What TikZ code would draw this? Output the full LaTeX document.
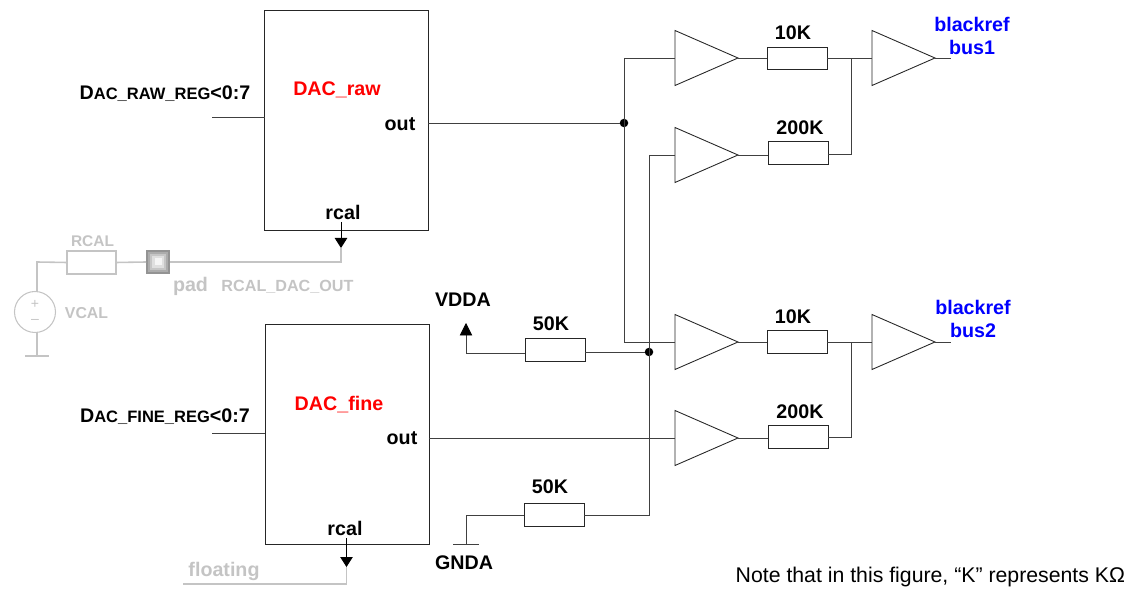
\documentclass[tikz,border=0pt]{standalone}
\usepackage{xcolor}
\usepackage{fontspec}
\setmainfont{Liberation Sans}
\usetikzlibrary{positioning,shapes.geometric,arrows.meta}

\definecolor{faded}{HTML}{C4C4C4}

\newcommand{\dacreg}[1]{\fontsize{11.2}{13}\selectfont D\fontsize{9.4}{13}\selectfont #1\fontsize{11.2}{13}\selectfont <0:7}

\begin{document}
\begin{tikzpicture}
[x=0.02cm, y=-0.02cm, font=\fontsize{11.2}{13}\selectfont\bfseries,
    every node/.style={inner sep=0pt, outer sep=0pt},
    wire/.style={draw=black!75, line width=0.5pt},
    fadedwire/.style={draw=faded, line width=0.9pt},
    dacbox/.style={draw=black!85, line width=0.5pt, minimum width=3.28cm, minimum height=4.4cm},
    resistor/.style={draw=black!85, line width=0.5pt, minimum width=1.2cm, minimum height=0.45cm},
    amp/.style={draw=black!85, line width=0.5pt, isosceles triangle, isosceles triangle stretches,
        shape border rotate=0, minimum width=1.1cm, minimum height=1.26cm, anchor=lower side},
    junction/.style={circle, fill=black, minimum size=0.17cm},
    busname/.style={text=blue, align=center},
    dacname/.style={text=red},
    fadedtext/.style={text=faded},
    tip/.style={-{Triangle[length=0.2cm,width=0.25cm,black]}},
    supplytip/.style={-{Triangle[length=0.25cm,width=0.25cm,black]}},
    ]

    \useasboundingbox (0,0) rectangle (1134,591);

    % blocks
    \node [dacbox] (raw) at (346.5,120) {};
    \node [dacbox] (fine) at (347,434) {};
    \node [dacname] (rawname) at (337,89.5) {DAC\_raw};
    \node [dacname] (finename) at (339,404.5) {DAC\_fine};
    \node (rawout) at (400,124) {out};
    \node (fineout) at (402,438) {out};
    \node (rawrcal) at (343,212) {rcal};
    \node (finercal) at (345,528) {rcal};
    \node (rawreg) at (165,94) {\dacreg{AC\_RAW\_REG}};
    \node (finereg) at (165,417) {\dacreg{AC\_FINE\_REG}};
    \coordinate (rawregend) at (212,117);
    \coordinate (fineregend) at (212,433);

    % buffers
    \node [amp] (amp1) at (675,58) {};
    \node [amp] (amp2) at (675,155) {};
    \node [amp] (amp3) at (675,342) {};
    \node [amp] (amp4) at (675,438) {};
    \node [amp] (bus1amp) at (872,58) {};
    \node [amp] (bus2amp) at (872,342) {};

    % resistors
    \node [resistor] (r1) at (797,58.5) {};
    \node [resistor] (r2) at (798,153) {};
    \node [resistor] (r3) at (797,342) {};
    \node [resistor] (r4) at (798,437) {};
    \node [resistor] (rvdd) at (555,350) {};
    \node [resistor] (rgnd) at (554,515) {};
    \node (r1val) at (793,33) {10K};
    \node (r2val) at (800,128) {200K};
    \node (r3val) at (793,317) {10K};
    \node (r4val) at (800,412) {200K};
    \node (rvddval) at (551,324) {50K};
    \node (rgndval) at (550,487) {50K};

    % outputs
    \coordinate (bus1end) at (951,58);
    \coordinate (bus2end) at (951,342);
    \node [busname] (bus1) at (972,36) {blackref\\bus1};
    \node [busname] (bus2) at (973,319) {blackref\\bus2};

    % junctions
    \node [junction] (rawdot) at (624,123) {};
    \node [junction] (biasdot) at (649,352) {};
    \coordinate (rawtop) at (624,58);
    \coordinate (rawbot) at (624,342);
    \coordinate (biastop) at (649,155);
    \coordinate (biasbot) at (649,515);
    \coordinate (join1) at (851,58.5);
    \coordinate (join1b) at (851,154);
    \coordinate (join2) at (851,342);
    \coordinate (join2b) at (851,437);

    % supplies
    \node (vdda) at (463,300) {VDDA};
    \node (gnda) at (464,563) {GNDA};
    \coordinate (vddaend) at (466,323);
    \coordinate (vddacorner) at (466,353);
    \coordinate (gndacorner) at (466,515);
    \coordinate (gndaend) at (466,544);
    \coordinate (gndaleft) at (453,544);
    \coordinate (gndaright) at (479,544);

    % wiring
    \draw [wire] (rawregend) -- (rawregend -| raw.west);
    \draw [wire] (fineregend) -- (fineregend -| fine.west);
    \draw [wire] (raw.east |- rawdot) -- (rawdot);
    \draw [wire] (rawtop) -- (rawbot);
    \draw [wire] (rawtop) -- (amp1.lower side |- rawtop);
    \draw [wire] (rawbot) -- (amp3.lower side |- rawbot);
    \draw [wire] (biastop) -- (biasbot) -- (rgnd.east |- biasbot);
    \draw [wire] (biastop) -- (amp2.lower side |- biastop);
    \draw [wire] (fine.east |- amp4.lower side) -- (amp4.lower side);
    \draw [wire] (amp1.apex) -- (r1.west |- amp1.apex);
    \draw [wire] (amp2.apex) -- (r2.west |- amp2.apex);
    \draw [wire] (amp3.apex) -- (r3.west |- amp3.apex);
    \draw [wire] (amp4.apex) -- (r4.west |- amp4.apex);
    \draw [wire] (r1.east) -- (bus1amp.lower side |- r1.east);
    \draw [wire] (r2.east |- join1b) -- (join1b) -- (join1);
    \draw [wire] (r3.east) -- (bus2amp.lower side |- r3.east);
    \draw [wire] (r4.east) -- (join2b) -- (join2);
    \draw [wire] (bus1amp.apex) -- (bus1end);
    \draw [wire] (bus2amp.apex) -- (bus2end);
    \draw [wire] (rvdd.east |- biasdot) -- (biasdot);
    \draw [wire, supplytip] (rvdd.west |- vddacorner) -- (vddacorner) -- (vddaend);
    \draw [wire] (rgnd.west) -- (gndacorner) -- (gndaend);
    \draw [wire] (gndaleft) -- (gndaright);

    % off-chip calibration path
    \node [draw=faded, line width=0.6pt, minimum width=0.98cm, minimum height=0.46cm] (rcal) at (91.5,262.5) {};
    \node [fadedtext, font=\fontsize{8.8}{10}\selectfont\bfseries] (rcalname) at (92.5,241) {RCAL};
    \node [fill=gray!85, minimum size=0.48cm] (pad) at (158,262) {};
    \foreach \padsize/\padtint in {0.40/65, 0.32/45, 0.24/25, 0.14/8}
        \node [fill=gray!\padtint, minimum size=\padsize cm] at (pad) {};
    \node [fadedtext] (padname) at (190.5,286) {pad};
    \node [fadedtext, font=\fontsize{9.2}{11}\selectfont\bfseries] (rcalnet) at (287.5,287) {RCAL\_DAC\_OUT};
    \node [draw=faded, line width=0.6pt, circle, minimum size=0.82cm, text=faded, align=center,
        font=\fontsize{8}{9}\selectfont\normalfont] (vsrc) at (35,312) {+\\–};
    \node [fadedtext, font=\fontsize{9}{11}\selectfont\bfseries] (vcal) at (86.5,313) {VCAL};
    \coordinate (rawtip) at (341,248);
    \coordinate (rawstub) at (341,222);
    \coordinate (rawcorner) at (341,262);
    \coordinate (vsrctop) at (37,262);
    \coordinate (vsrcgnd) at (37,356);
    \coordinate (vsrcleft) at (25,356);
    \coordinate (vsrcright) at (49,356);
    \draw [fadedwire] (rcal.west) -- (vsrctop) -- (vsrctop |- vsrc.north);
    \draw [fadedwire] (vsrctop |- vsrc.south) -- (vsrcgnd);
    \draw [fadedwire] (vsrcleft) -- (vsrcright);
    \draw [fadedwire] (rcal.east) -- (pad.west);
    \draw [fadedwire] (pad.east) -- (rawcorner) -- (rawtip);
    \draw [wire, draw=black, tip] (rawstub) -- (rawtip);

    % unconnected fine calibration
    \node [fadedtext] (floating) at (224,571.5) {floating};
    \coordinate (finetip) at (346.5,567);
    \coordinate (finestub) at (346.5,538);
    \coordinate (finecorner) at (346.5,584);
    \coordinate (floatend) at (183,584);
    \draw [fadedwire] (floatend) -- (finecorner) -- (finetip);
    \draw [wire, draw=black, tip] (finestub) -- (finetip);

    % footnote
    \node [anchor=east, font=\fontsize{12.1}{14}\selectfont\normalfont] (note) at (1125,577) {Note that in this figure, “K” represents KΩ};
\end{tikzpicture}
\end{document}
